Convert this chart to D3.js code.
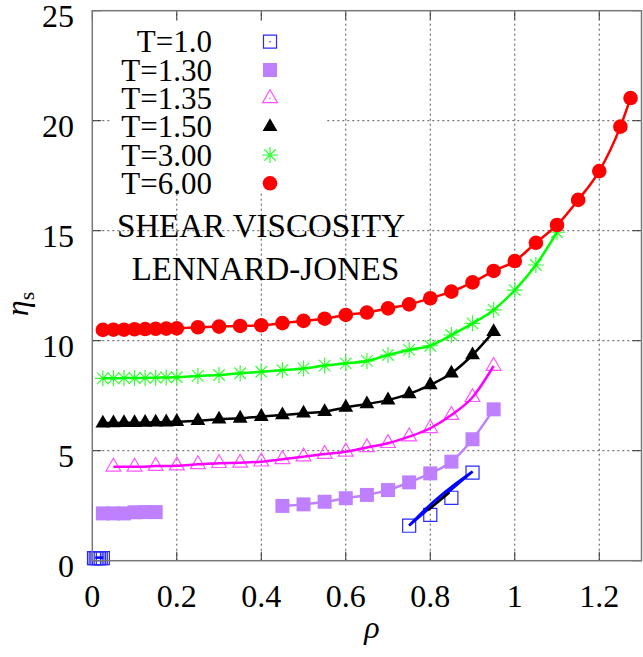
<!DOCTYPE html>
<html lang="en"><head>
<meta charset="utf-8">
<title>Shear viscosity</title>
<script src="https://cdn.jsdelivr.net/npm/d3@7"></script>
<style>
body { margin: 0; background: #fff; }
text { font-family: "Liberation Serif", "DejaVu Serif", serif; }
</style>
</head>
<body>
<script type="text/javascript">

var width = 643;
var height = 657;

// rho values
var rhoDense = [0.025, 0.05, 0.075, 0.1, 0.125, 0.15, 0.175, 0.2, 0.25, 0.3, 0.35, 0.4, 0.45, 0.5, 0.55, 0.6, 0.65, 0.7, 0.75, 0.8, 0.85, 0.9, 0.95];
var rhoT6 = rhoDense.concat([1.0, 1.05, 1.1, 1.15, 1.2, 1.25, 1.274]);
var rhoT3 = rhoDense.concat([1.0, 1.05, 1.1]);
var rhoT135 = [0.05, 0.1, 0.15, 0.2, 0.25, 0.3, 0.35, 0.4, 0.45, 0.5, 0.55, 0.6, 0.65, 0.7, 0.75, 0.8, 0.85, 0.9, 0.95];
var rhoT130 = [0.025, 0.05, 0.075, 0.1, 0.125, 0.15, 0.45, 0.5, 0.55, 0.6, 0.65, 0.7, 0.75, 0.8, 0.85, 0.9, 0.95];
var rhoT10 = [0.004, 0.008, 0.012, 0.016, 0.02, 0.025, 0.75, 0.8, 0.85, 0.9];

// shear viscosity values
var etaT6 = [10.49, 10.5, 10.5, 10.52, 10.53, 10.54, 10.55, 10.56, 10.61, 10.64, 10.67, 10.7, 10.8, 10.9, 11.0, 11.17, 11.28, 11.47, 11.65, 11.93, 12.23, 12.65, 13.17, 13.62, 14.45, 15.26, 16.4, 17.71, 19.73, 21.03];
var etaT3 = [8.29, 8.29, 8.3, 8.3, 8.31, 8.32, 8.33, 8.34, 8.4, 8.44, 8.52, 8.59, 8.66, 8.74, 8.87, 8.97, 9.08, 9.35, 9.58, 9.77, 10.26, 10.79, 11.4, 12.3, 13.44, 14.93];
var etaT150 = [6.25, 6.26, 6.27, 6.27, 6.28, 6.29, 6.3, 6.32, 6.36, 6.43, 6.47, 6.55, 6.62, 6.7, 6.77, 6.97, 7.12, 7.3, 7.58, 7.99, 8.52, 9.35, 10.41];
var etaT135 = [4.27, 4.27, 4.3, 4.32, 4.38, 4.43, 4.45, 4.5, 4.61, 4.73, 4.85, 4.95, 5.15, 5.34, 5.64, 6.02, 6.62, 7.43, 8.85];
var etaT130 = [2.15, 2.15, 2.15, 2.2, 2.21, 2.21, 2.49, 2.56, 2.68, 2.84, 2.99, 3.21, 3.56, 3.97, 4.5, 5.52, 6.88];
var etaT10 = [0.12, 0.12, 0.12, 0.12, 0.12, 0.12, 1.59, 2.08, 2.86, 4.0];

// extra fitted curves for T=1.0
var fitT10a = [[0.75, 1.6], [0.9, 4.05]];
var fitT10b = [[0.75, 1.6], [0.8, 2.55], [0.85, 3.35], [0.9, 4.05]];
var fitT10c = [[0.795, 2.3], [0.845, 3.1]];
var fitT10d = [[0.007, 0.14], [0.026, 0.14]];

var legendLabels = ["T=1.0", "T=1.30", "T=1.35", "T=1.50", "T=3.00", "T=6.00"];
var xTicks = [0, 0.2, 0.4, 0.6, 0.8, 1, 1.2];
var yTicks = [0, 5, 10, 15, 20, 25];

var svg = d3.select("body").append("svg")
    .attr("width", width)
    .attr("height", height);

var x = d3.scaleLinear().domain([0, 1.3]).range([92.3, 641.5]);
var y = d3.scaleLinear().domain([0, 25]).range([560.7, 10.7]);

// grid
var gridColor = "#555";
svg.selectAll(".gx").data(xTicks.filter(function(d) { return d > 0; }))
    .enter().append("line")
    .attr("x1", function(d) { return x(d); }).attr("x2", function(d) { return x(d); })
    .attr("y1", y(0)).attr("y2", y(25))
    .attr("stroke", gridColor).attr("stroke-width", 1).attr("stroke-dasharray", "2,3");
svg.selectAll(".gy").data(yTicks.filter(function(d) { return d > 0 && d < 25; }))
    .enter().append("line")
    .attr("x1", x(0)).attr("x2", x(1.3))
    .attr("y1", function(d) { return y(d); }).attr("y2", function(d) { return y(d); })
    .attr("stroke", gridColor).attr("stroke-width", 1).attr("stroke-dasharray", "2,3");

// ticks (inward, mirrored)
xTicks.forEach(function(t) {
    svg.append("line").attr("x1", x(t)).attr("x2", x(t)).attr("y1", y(0)).attr("y2", y(0) - 9).attr("stroke", "#333");
    svg.append("line").attr("x1", x(t)).attr("x2", x(t)).attr("y1", y(25)).attr("y2", y(25) + 9).attr("stroke", "#333");
    svg.append("text").attr("x", x(t)).attr("y", 606.5)
        .attr("text-anchor", "middle").attr("font-size", 32).text(t);
});
yTicks.forEach(function(t) {
    svg.append("line").attr("x1", x(0)).attr("x2", x(0) + 9).attr("y1", y(t)).attr("y2", y(t)).attr("stroke", "#333");
    svg.append("line").attr("x1", x(1.3)).attr("x2", x(1.3) - 9).attr("y1", y(t)).attr("y2", y(t)).attr("stroke", "#333");
    svg.append("text").attr("x", 74).attr("y", y(t) + 16)
        .attr("text-anchor", "end").attr("font-size", 32).text(t);
});

// symbols
var star = function(s) {
    var r = s / 2, a = r * 0.72;
    return "M" + (-r) + ",0L" + r + ",0M0," + (-r) + "L0," + r +
        "M" + (-a) + "," + (-a) + "L" + a + "," + a + "M" + (-a) + "," + a + "L" + a + "," + (-a);
};
var sqPath = d3.symbol().type(d3.symbolSquare).size(170)();
var sqFill = d3.symbol().type(d3.symbolSquare).size(196)();
var triPath = d3.symbol().type(d3.symbolTriangle).size(95)();
var circPath = d3.symbol().type(d3.symbolCircle).size(Math.PI * 7.3 * 7.3)();

var series = [
    {rho: rhoT10, eta: etaT10, color: "#2a2aff", path: sqPath, fill: "none"},
    {rho: rhoT130, eta: etaT130, color: "#bf80ff", path: sqFill, fill: "#bf80ff"},
    {rho: rhoT135, eta: etaT135, color: "#ff55ff", path: triPath, fill: "none"},
    {rho: rhoDense, eta: etaT150, color: "#000000", path: triPath, fill: "#000000"},
    {rho: rhoT3, eta: etaT3, color: "#33ff33", path: star(16), fill: "none"},
    {rho: rhoT6, eta: etaT6, color: "#ff0000", path: circPath, fill: "#ff0000"}
];

var line = d3.line()
    .x(function(d) { return x(d[0]); })
    .y(function(d) { return y(d[1]); })
    .curve(d3.curveMonotoneX);

function drawPoints(s) {
    var pts = s.rho.map(function(r, i) { return [r, s.eta[i]]; });
    svg.append("g").selectAll("path")
        .data(pts).enter().append("path")
        .attr("d", s.path)
        .attr("transform", function(d) { return "translate(" + x(d[0]) + "," + y(d[1]) + ")"; })
        .attr("fill", s.fill)
        .attr("stroke", s.color)
        .attr("stroke-width", s.fill === "none" ? 1.2 : 0);
    return pts;
}

function drawLine(pts, color, w) {
    svg.append("path").attr("d", line(pts))
        .attr("fill", "none").attr("stroke", color).attr("stroke-width", w);
}

// T=1.0
drawPoints(series[0]);
drawLine(fitT10a, "#0000ff", 2.5);
drawLine(fitT10b, "#0000ff", 2.5);
drawLine(fitT10c, "#000000", 2.5);
drawLine(fitT10d, "#0000ff", 2.5);
// T=1.30
var p130 = drawPoints(series[1]);
drawLine(p130.filter(function(d) { return d[0] > 0.4; }), "#bf80ff", 2.5);
// T=1.35
drawLine(drawPoints(series[2]), "#ff00ff", 2.5);
// T=1.50
drawLine(drawPoints(series[3]), "#000000", 2.5);
// T=3.00
drawLine(drawPoints(series[4]), "#00ff00", 2.5);
// T=6.00
drawLine(drawPoints(series[5]), "#ff0000", 2.5);

// legend (opaque box)
svg.append("rect").attr("x", 112).attr("y", 21).attr("width", 215).attr("height", 172).attr("fill", "#fff");
var legY = [41.7, 70, 98.3, 126.7, 155, 183.3];
legendLabels.forEach(function(lab, i) {
    var s = series[i];
    svg.append("text").attr("x", 212).attr("y", legY[i] + 10.5)
        .attr("text-anchor", "end").attr("font-size", 31).text(lab);
    svg.append("path").attr("d", s.path)
        .attr("transform", "translate(270," + legY[i] + ")")
        .attr("fill", s.fill).attr("stroke", s.color)
        .attr("stroke-width", s.fill === "none" ? 1.2 : 0);
});
// center dots of open symbols
svg.append("circle").attr("cx", 270).attr("cy", legY[0]).attr("r", 0.8).attr("fill", "#2a2aff");
svg.append("circle").attr("cx", 270).attr("cy", legY[2]).attr("r", 0.8).attr("fill", "#ff55ff");

svg.append("text").attr("x", 261).attr("y", 237).attr("text-anchor", "middle").attr("font-size", 33).text("SHEAR VISCOSITY");
svg.append("text").attr("x", 265.5).attr("y", 280).attr("text-anchor", "middle").attr("font-size", 33).text("LENNARD-JONES");

// frame
svg.append("rect").attr("x", x(0)).attr("y", y(25))
    .attr("width", x(1.3) - x(0)).attr("height", y(0) - y(25))
    .attr("fill", "none").attr("stroke", "#777").attr("stroke-width", 1.5);

// axis labels
var yl = svg.append("text").attr("transform", "translate(28,304) rotate(-90)")
    .attr("text-anchor", "middle").attr("font-size", 32);
yl.append("tspan").attr("font-style", "italic").text("η");
yl.append("tspan").attr("font-size", 22).attr("dy", 6).text("s");

svg.append("text").attr("x", 372).attr("y", 638).attr("text-anchor", "middle")
    .attr("font-size", 32).attr("font-style", "italic").text("ρ");

</script>
</body>
</html>
